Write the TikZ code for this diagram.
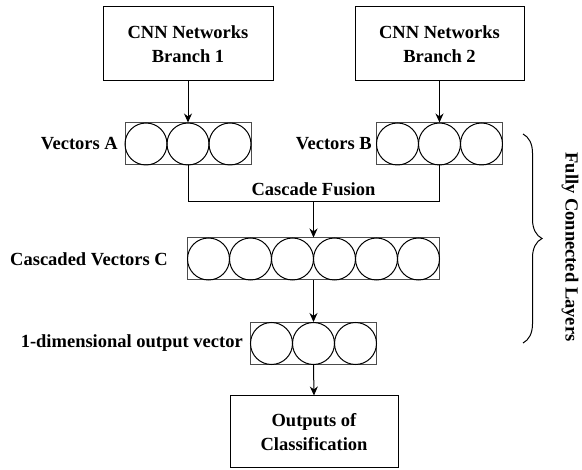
\documentclass[tikz,border=0pt]{standalone}
\usepackage{fontspec}
\setmainfont{Liberation Serif}
\usetikzlibrary{arrows.meta,decorations.pathreplacing}
\begin{document}
\begin{tikzpicture}[x=1pt,y=-1pt,
  every node/.style={font=\fontsize{18.5}{24}\selectfont\bfseries},
  block/.style={draw, line width=1pt, align=center, inner sep=0pt},
  vecbox/.style={draw=black!70, line width=1pt, minimum height=42pt, inner sep=0pt},
  cell/.style={draw, circle, line width=1pt, minimum size=42pt, inner sep=0pt},
  lbl/.style={anchor=east, inner sep=0pt},
  flow/.style={line width=1pt, -{Stealth[length=9pt,width=8pt]}},
  wire/.style={line width=1pt}]
\useasboundingbox (0,0) rectangle (582,470);

% input branches
\node[block, minimum width=170pt, minimum height=74pt] (br1) at (188,44) {CNN Networks\\Branch 1};
\node[block, minimum width=169pt, minimum height=74pt] (br2) at (439.5,44) {CNN Networks\\Branch 2};

% feature vectors
\node[vecbox, minimum width=126pt] (vecA) at (188,144) {};
\node[vecbox, minimum width=126pt] (vecB) at (439.5,144) {};
\node[vecbox, minimum width=252pt] (vecC) at (313.5,259) {};
\node[vecbox, minimum width=126pt] (vecD) at (313.5,343.5) {};
\foreach \i in {-1,0,1} {
  \node[cell] (a\i) at (188+42*\i,144) {};
  \node[cell] (b\i) at (439.5+42*\i,144) {};
  \node[cell] (d\i) at (313.5+42*\i,343.5) {};
}
\foreach \i in {1,...,6} {
  \node[cell] (c\i) at (313.5+42*\i-147,259) {};
}

% output block
\node[block, minimum width=168pt, minimum height=72pt] (outp) at (314,432) {Outputs of\\Classification};

% labels
\node[lbl] (labA) at (118,144) {Vectors A};
\node[lbl] (labB) at (372,144) {Vectors B};
\node[lbl] (labC) at (168,259) {Cascaded Vectors C};
\node[lbl] (labD) at (243,343) {1-dimensional output vector};
\node (fusion) at (313.5,189) {Cascade Fusion};

% connectors
\coordinate (fuseL) at (188,202);
\coordinate (fuseR) at (439.5,202);
\coordinate (fuseM) at (313.5,202);
\draw[flow] (br1) -- (vecA);
\draw[flow] (br2) -- (vecB);
\draw[wire] (vecA.south) -- (fuseL) -- (fuseR) -- (vecB.south);
\draw[flow] (fuseM) -- (vecC.north);
\draw[flow] (vecC.south) -- (vecD.north);
\draw[flow] (vecD.south) -- (outp.north);

% fully connected layers brace
\draw[wire, decorate, decoration={brace, amplitude=19pt}] (523,134) -- (523,343);
\node[rotate=-90] (fcl) at (570,247) {Fully Connected Layers};
\end{tikzpicture}
\end{document}
